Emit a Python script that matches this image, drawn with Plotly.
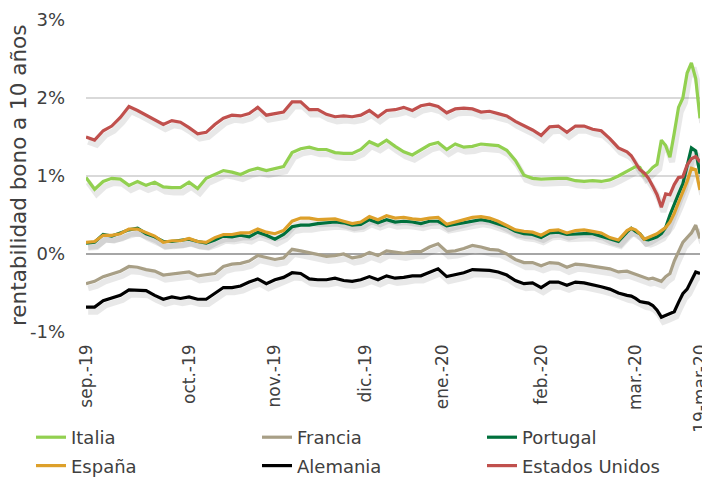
import plotly.graph_objects as go

# trading-day index (0 = early sep-19, 143 = 19-mar-20)
dias = list(range(0, 127, 2)) + list(range(127, 144))

tick_pos = [0, 24, 44, 65, 83, 106, 128, 143]
tick_txt = ["sep.-19", "oct.-19", "nov.-19", "dic.-19", "ene.-20", "feb.-20", "mar.-20", "19-mar-20"]

italia = [0.98, 0.83, 0.93, 0.97, 0.96, 0.88, 0.93, 0.88, 0.92, 0.86,
          0.85, 0.85, 0.92, 0.84, 0.97, 1.02, 1.07, 1.05, 1.02, 1.07,
          1.10, 1.07, 1.09, 1.12, 1.30, 1.35, 1.37, 1.34, 1.34, 1.30,
          1.29, 1.29, 1.34, 1.44, 1.39, 1.46, 1.38, 1.31, 1.27, 1.33,
          1.40, 1.43, 1.34, 1.41, 1.37, 1.38, 1.41, 1.40, 1.39, 1.33,
          1.20, 1.01, 0.97, 0.96, 0.97, 0.97, 0.97, 0.94, 0.93, 0.94,
          0.93, 0.95, 1.00, 1.06,
          1.10, 1.12, 1.11, 1.01, 1.05, 1.11, 1.15, 1.46, 1.39, 1.24,
          1.55, 1.88, 2.00, 2.32, 2.45, 2.25, 1.74]

francia = [-0.38, -0.35, -0.29, -0.26, -0.22, -0.16, -0.17, -0.20, -0.22, -0.27,
           -0.26, -0.24, -0.23, -0.28, -0.26, -0.25, -0.16, -0.13, -0.12, -0.09,
           -0.02, -0.04, -0.07, -0.05, 0.06, 0.04, 0.02, -0.01, -0.03, -0.02,
           0.00, -0.05, -0.03, 0.02, -0.02, 0.04, 0.02, 0.01, 0.03, 0.03,
           0.09, 0.13, 0.03, 0.04, 0.07, 0.11, 0.09, 0.06, 0.05, 0.00,
           -0.07, -0.11, -0.11, -0.15, -0.11, -0.12, -0.17, -0.13, -0.14, -0.16,
           -0.17, -0.19, -0.23, -0.22,
           -0.24, -0.26, -0.29, -0.31, -0.32, -0.31, -0.33, -0.35, -0.29, -0.25,
           -0.09, 0.03, 0.15, 0.21, 0.27, 0.37, 0.20]

portugal = [0.14, 0.15, 0.25, 0.23, 0.27, 0.31, 0.33, 0.26, 0.22, 0.16,
            0.16, 0.17, 0.19, 0.16, 0.14, 0.18, 0.23, 0.22, 0.24, 0.22,
            0.28, 0.24, 0.19, 0.25, 0.35, 0.37, 0.37, 0.39, 0.40, 0.41,
            0.40, 0.37, 0.38, 0.44, 0.40, 0.44, 0.41, 0.42, 0.41, 0.39,
            0.42, 0.42, 0.36, 0.38, 0.40, 0.43, 0.44, 0.42, 0.39, 0.35,
            0.29, 0.26, 0.25, 0.21, 0.27, 0.28, 0.25, 0.26, 0.26, 0.26,
            0.23, 0.19, 0.16, 0.28,
            0.33, 0.29, 0.26, 0.19, 0.18, 0.20, 0.22, 0.26, 0.34, 0.50,
            0.65, 0.77, 0.90, 1.14, 1.36, 1.32, 1.03]

espana = [0.15, 0.16, 0.24, 0.24, 0.26, 0.32, 0.32, 0.27, 0.23, 0.15,
          0.17, 0.17, 0.20, 0.16, 0.15, 0.21, 0.25, 0.25, 0.27, 0.27,
          0.32, 0.28, 0.26, 0.30, 0.42, 0.46, 0.46, 0.44, 0.44, 0.45,
          0.42, 0.39, 0.41, 0.48, 0.44, 0.49, 0.46, 0.47, 0.45, 0.44,
          0.46, 0.47, 0.38, 0.41, 0.44, 0.47, 0.48, 0.46, 0.42, 0.37,
          0.31, 0.29, 0.28, 0.24, 0.30, 0.31, 0.27, 0.30, 0.31, 0.29,
          0.27, 0.21, 0.18, 0.30,
          0.33, 0.31, 0.26, 0.19, 0.21, 0.24, 0.26, 0.30, 0.34, 0.41,
          0.52, 0.66, 0.80, 0.93, 1.10, 1.08, 0.82]

alemania = [-0.68, -0.68, -0.60, -0.57, -0.53, -0.46, -0.46, -0.47, -0.53, -0.58,
            -0.55, -0.57, -0.55, -0.58, -0.58, -0.51, -0.43, -0.43, -0.41, -0.36,
            -0.32, -0.38, -0.33, -0.30, -0.24, -0.25, -0.32, -0.33, -0.33, -0.31,
            -0.34, -0.35, -0.33, -0.29, -0.33, -0.28, -0.31, -0.30, -0.28, -0.28,
            -0.24, -0.19, -0.29, -0.27, -0.24, -0.20, -0.20, -0.21, -0.23, -0.27,
            -0.34, -0.38, -0.37, -0.43, -0.36, -0.36, -0.40, -0.36, -0.37, -0.39,
            -0.42, -0.45, -0.50, -0.53,
            -0.54, -0.57, -0.61, -0.62, -0.63, -0.66, -0.72, -0.81, -0.79, -0.77,
            -0.74, -0.62, -0.51, -0.45, -0.34, -0.23, -0.25]

eeuu = [1.50, 1.46, 1.58, 1.64, 1.75, 1.89, 1.84, 1.78, 1.73, 1.66,
        1.71, 1.69, 1.62, 1.54, 1.56, 1.66, 1.74, 1.78, 1.77, 1.80,
        1.88, 1.78, 1.80, 1.82, 1.95, 1.95, 1.85, 1.85, 1.79, 1.76,
        1.77, 1.76, 1.78, 1.84, 1.76, 1.84, 1.85, 1.88, 1.84, 1.90,
        1.92, 1.89, 1.81, 1.86, 1.87, 1.86, 1.82, 1.83, 1.80, 1.77,
        1.70, 1.65, 1.59, 1.52, 1.63, 1.64, 1.56, 1.64, 1.64, 1.60,
        1.58, 1.48, 1.36, 1.31,
        1.26, 1.17, 1.08, 1.04, 0.97, 0.87, 0.76, 0.60, 0.77, 0.76,
        0.89, 0.98, 0.99, 1.14, 1.22, 1.25, 1.18]

# (name, values, colour, legend column)
series = [
    ("Italia", italia, "#92D050", "legend"),
    ("Francia", francia, "#A89F86", "legend2"),
    ("Portugal", portugal, "#00703C", "legend3"),
    ("España", espana, "#DDA02A", "legend"),
    ("Alemania", alemania, "#000000", "legend2"),
    ("Estados Unidos", eeuu, "#C0504D", "legend3"),
]

FONT = "DejaVu Sans, sans-serif"
TXT = "#404040"

fig = go.Figure()

# soft drop shadows under the lines
for name, vals, col, lg in series:
    fig.add_trace(go.Scatter(
        x=[d + 0.5 for d in dias], y=[v - 0.06 for v in vals],
        mode="lines", line=dict(color="rgba(0,0,0,0.09)", width=6),
        showlegend=False, hoverinfo="skip"))

for name, vals, col, lg in series:
    fig.add_trace(go.Scatter(
        x=dias, y=vals, name=name, mode="lines", legend=lg, legendgroup=name,
        line=dict(color=col, width=3.2)))

leg_common = dict(
    orientation="v", xref="paper", yref="container",
    y=1 - 419 / 478, xanchor="left", yanchor="top", tracegroupgap=2,
    font=dict(family=FONT, size=18, color=TXT),
    bgcolor="rgba(0,0,0,0)", itemwidth=30,
)

fig.update_layout(
    width=702, height=478,
    margin=dict(l=86, r=2, t=20, b=146),
    paper_bgcolor="white", plot_bgcolor="white",
    font=dict(family=FONT, size=16, color=TXT),
    showlegend=True,
    legend=dict(x=(31 - 86) / 614, **leg_common),
    legend2=dict(x=(257 - 86) / 614, **leg_common),
    legend3=dict(x=(482 - 86) / 614, **leg_common),
    annotations=[dict(
        text="rentabilidad bono a 10 años", textangle=-90,
        xref="paper", yref="paper", x=(18 - 86) / 614, y=0.5,
        xanchor="center", yanchor="middle", showarrow=False,
        font=dict(family=FONT, size=21.5, color=TXT))],
)

fig.update_yaxes(
    range=[-1, 3], tickvals=[-1, 0, 1, 2, 3],
    ticktext=["-1%", "0%", "1%", "2%", "3%"],
    showgrid=True, gridcolor="#D9D9D9", gridwidth=1.5,
    zeroline=True, zerolinecolor="#A6A6A6", zerolinewidth=1.5,
    showline=False, ticks="", ticklabelstandoff=20, automargin=False,
    tickfont=dict(family=FONT, size=18, color=TXT),
)

fig.update_xaxes(
    range=[0, 143], tickvals=tick_pos, ticktext=tick_txt,
    tickangle=-90, showgrid=False, zeroline=False, showline=False,
    ticks="", ticklabelstandoff=8, automargin=False, ticklabeloverflow="allow",
    tickfont=dict(family=FONT, size=17, color=TXT),
)

fig.write_html("out.html", config={"displayModeBar": False},
               post_script="document.body.style.margin='0';")
